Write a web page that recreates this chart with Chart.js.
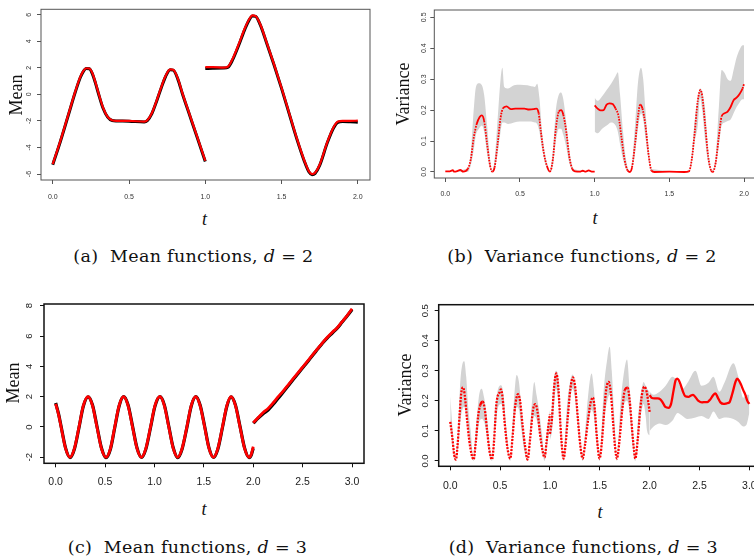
<!DOCTYPE html>
<html><head><meta charset="utf-8">
<script src="https://cdn.jsdelivr.net/npm/chart.js@4"></script>
<style>
html,body{margin:0;padding:0;background:#fff;}
body{width:754px;height:559px;overflow:hidden;position:relative;}
.pn{position:absolute;}
.lab{position:absolute;white-space:nowrap;font-family:'Liberation Serif',serif;font-size:18px;color:#111;line-height:1;}
.rot{transform:translate(-50%,-50%) rotate(-90deg);}
.ctr{transform:translate(-50%,-50%);}
.it{font-style:italic;font-size:18px;}
.cap{position:absolute;white-space:nowrap;font-family:'DejaVu Serif',serif;font-size:17.5px;letter-spacing:0.3px;transform:translate(-50%,-50%);color:#111;line-height:1;}
</style></head><body>
<div class="pn" style="left:0;top:0"><canvas id="ca" width="377" height="200"></canvas></div>
<div class="pn" style="left:377px;top:0"><canvas id="cb" width="390" height="200"></canvas></div>
<div class="pn" style="left:0;top:290px"><canvas id="cc" width="377" height="200"></canvas></div>
<div class="pn" style="left:377px;top:290px"><canvas id="cd" width="400" height="200"></canvas></div>

<div class="lab rot" style="left:16.3px;top:94.5px">Mean</div>
<div class="lab ctr it" style="left:204.5px;top:219px">t</div>
<div class="lab rot" style="left:403px;top:94px">Variance</div>
<div class="lab ctr it" style="left:595px;top:217.5px">t</div>
<div class="lab rot" style="left:12.5px;top:382.5px">Mean</div>
<div class="lab ctr it" style="left:204px;top:509px">t</div>
<div class="lab rot" style="left:404.5px;top:385px">Variance</div>
<div class="lab ctr it" style="left:600px;top:512px">t</div>

<div class="cap" style="left:193.4px;top:257px">(a)&nbsp; Mean functions, <i>d</i> = 2</div>
<div class="cap" style="left:582px;top:257px">(b)&nbsp; Variance functions, <i>d</i> = 2</div>
<div class="cap" style="left:187.5px;top:548px">(c)&nbsp; Mean functions, <i>d</i> = 3</div>
<div class="cap" style="left:583.3px;top:548px">(d)&nbsp; Variance functions, <i>d</i> = 3</div>

<script>
// ---------- tick values / labels ----------
const xTicks2 = [0, 0.5, 1, 1.5, 2];
const xLabels2 = ["0.0", "0.5", "1.0", "1.5", "2.0"];
const xTicks3 = [0, 0.5, 1, 1.5, 2, 2.5, 3];
const xLabels3 = ["0.0", "0.5", "1.0", "1.5", "2.0", "2.5", "3.0"];
const yTicksA = [-6, -4, -2, 0, 2, 4, 6];
const yLabelsA = ["-6", "-4", "-2", "0", "2", "4", "6"];
const yTicksC = [-2, 0, 2, 4, 6, 8];
const yLabelsC = ["-2", "0", "2", "4", "6", "8"];
const yTicksV = [0, 0.1, 0.2, 0.3, 0.4, 0.5];
const yLabelsV = ["0.0", "0.1", "0.2", "0.3", "0.4", "0.5"];

// ---------- (a) mean functions, d = 2 ----------
const aT1 = [0,0.05,0.10,0.15,0.18,0.20,0.22,0.24,0.26,0.28,0.30,0.33,0.36,0.39,0.42,0.50,0.60,0.62,0.65,0.68,0.71,0.74,0.77,0.79,0.82,0.85,0.90,0.95,1.0];
const aRed1 = [-5.25,-3.5,-1.6,0.3,1.3,1.75,1.97,1.95,1.6,0.9,0.1,-1.0,-1.7,-1.95,-2.0,-2.0,-2.05,-1.95,-1.4,-0.5,0.5,1.4,1.88,1.85,1.2,0.1,-1.6,-3.3,-5.0];
const aBlack1 = [-5.3,-3.55,-1.65,0.25,1.25,1.72,1.95,1.93,1.55,0.85,0.05,-1.05,-1.72,-1.97,-2.0,-2.02,-2.08,-1.98,-1.45,-0.55,0.45,1.35,1.85,1.83,1.15,0.05,-1.65,-3.35,-5.05];
const aT2 = [1.0,1.05,1.12,1.15,1.18,1.22,1.26,1.29,1.31,1.33,1.36,1.40,1.45,1.50,1.55,1.60,1.65,1.68,1.70,1.72,1.75,1.80,1.84,1.87,1.90,1.95,2.0];
const aRed2 = [2.05,2.05,2.02,2.1,2.7,3.8,5.0,5.7,5.95,5.9,5.3,4.0,2.3,0.5,-1.4,-3.3,-5.0,-5.8,-6.0,-5.9,-5.3,-3.6,-2.5,-2.05,-2.0,-2.0,-1.98];
const aBlack2 = [1.95,1.97,1.98,2.05,2.62,3.72,4.92,5.65,5.9,5.87,5.25,3.95,2.25,0.45,-1.45,-3.35,-5.05,-5.85,-6.05,-5.95,-5.35,-3.65,-2.55,-2.1,-2.05,-2.07,-2.1];

// ---------- (b) variance functions, d = 2 ----------
const bT1 = [0,0.03,0.05,0.06,0.08,0.10,0.12,0.15,0.17,0.19,0.21,0.23,0.245,0.26,0.28,0.30,0.315,0.33,0.35,0.37,0.385,0.41,0.44,0.47,0.50,0.53,0.56,0.59,0.61,0.625,0.64,0.66,0.68,0.70,0.72,0.74,0.76,0.775,0.79,0.81,0.83,0.85,0.87,0.90,0.92,0.94,0.96,0.98,1.0];
const bRed1 = [0.002,0.002,0.006,0.001,0.003,0.007,0.001,0.01,0.04,0.11,0.155,0.178,0.183,0.165,0.09,0.02,0.001,0.015,0.09,0.175,0.205,0.212,0.203,0.205,0.205,0.205,0.202,0.203,0.205,0.19,0.13,0.06,0.02,0.001,0.04,0.14,0.195,0.2,0.185,0.13,0.05,0.01,0.002,0.001,0.004,0.001,0.005,0.001,0.001];
const bBandT1 = [0,0.15,0.17,0.19,0.205,0.225,0.245,0.26,0.28,0.30,0.315,0.33,0.35,0.37,0.382,0.395,0.42,0.46,0.50,0.55,0.60,0.615,0.63,0.65,0.68,0.70,0.72,0.74,0.76,0.775,0.79,0.81,0.83,0.86,1.0];
const bLo1 = [0,0,0.02,0.07,0.12,0.14,0.15,0.13,0.06,0.01,0,0.01,0.06,0.13,0.16,0.16,0.155,0.16,0.163,0.163,0.16,0.155,0.13,0.07,0.01,0,0.02,0.1,0.14,0.14,0.12,0.08,0.03,0,0];
const bHi1 = [0.002,0.012,0.06,0.2,0.275,0.287,0.28,0.25,0.15,0.04,0.005,0.04,0.17,0.3,0.337,0.275,0.27,0.28,0.282,0.28,0.275,0.285,0.24,0.12,0.03,0.004,0.07,0.2,0.25,0.257,0.235,0.16,0.07,0.01,0.002];
const bT2 = [1.00,1.02,1.04,1.06,1.08,1.10,1.12,1.14,1.16,1.18,1.20,1.22,1.235,1.25,1.27,1.29,1.305,1.32,1.34,1.36,1.38,1.40,1.50,1.60,1.63,1.65,1.67,1.69,1.708,1.72,1.74,1.76,1.78,1.79,1.81,1.83,1.85,1.87,1.89,1.91,1.93,1.95,1.97,1.99,2.00];
const bRed2 = [0.215,0.205,0.199,0.2,0.218,0.222,0.22,0.205,0.18,0.11,0.04,0.005,0.0,0.015,0.09,0.18,0.218,0.205,0.15,0.06,0.005,0.0,0.001,0.0,0.002,0.04,0.13,0.23,0.265,0.245,0.15,0.05,0.004,0.0,0.03,0.11,0.18,0.19,0.195,0.21,0.232,0.24,0.252,0.27,0.285];
const bBandT2 = [1.00,1.02,1.05,1.08,1.11,1.14,1.155,1.17,1.19,1.21,1.235,1.25,1.27,1.29,1.31,1.325,1.34,1.36,1.38,1.63,1.65,1.67,1.69,1.705,1.72,1.74,1.76,1.785,1.81,1.83,1.85,1.87,1.89,1.91,1.93,1.95,1.97,1.99,2.00];
const bLo2 = [0.13,0.125,0.14,0.15,0.16,0.15,0.13,0.09,0.04,0.01,0,0.01,0.06,0.14,0.19,0.17,0.11,0.04,0,0,0.03,0.1,0.15,0.24,0.2,0.1,0.03,0,0.02,0.08,0.15,0.16,0.165,0.17,0.19,0.21,0.225,0.235,0.235];
const bHi2 = [0.24,0.23,0.245,0.265,0.285,0.31,0.322,0.25,0.13,0.04,0.003,0.03,0.15,0.29,0.337,0.3,0.2,0.08,0.01,0.003,0.06,0.17,0.24,0.27,0.26,0.2,0.07,0.004,0.05,0.2,0.33,0.32,0.3,0.295,0.33,0.37,0.395,0.41,0.41];

// ---------- (c) mean functions, d = 3 ----------
const cT1 = [0,0.03,0.055,0.1,0.145,0.19,0.236,0.28,0.328,0.373,0.418,0.463,0.51,0.555,0.598,0.642,0.687,0.733,0.778,0.823,0.868,0.913,0.96,1.005,1.055,1.1,1.145,1.19,1.236,1.28,1.328,1.372,1.418,1.462,1.508,1.552,1.597,1.642,1.688,1.733,1.775,1.82,1.866,1.912,1.957,1.98,2.0];
const cRed1 = [1.52,0.8,0.0,-1.41,-2.0,-1.41,0,1.41,2.0,1.41,0,-1.41,-2.0,-1.41,0,1.41,2.0,1.41,0,-1.41,-2.0,-1.41,0,1.41,2.02,1.41,0,-1.41,-2.0,-1.41,0,1.41,2.0,1.41,0,-1.41,-2.0,-1.41,0,1.41,2.0,1.41,0,-1.41,-2.0,-1.8,-1.3];
const cBlack1 = [1.58,0.85,0.05,-1.38,-2.02,-1.45,-0.05,1.37,1.99,1.45,0.05,-1.37,-2.02,-1.45,-0.05,1.37,2.0,1.45,0.06,-1.37,-2.01,-1.46,-0.05,1.36,2.0,1.46,0.05,-1.37,-2.02,-1.45,-0.04,1.37,2.0,1.45,0.05,-1.38,-2.01,-1.45,-0.05,1.37,1.99,1.44,0.04,-1.38,-2.02,-1.85,-1.4];
const cT2 = [2.0,2.05,2.1,2.15,2.2,2.25,2.3,2.35,2.4,2.45,2.5,2.55,2.6,2.65,2.7,2.75,2.8,2.85,2.9,2.95,3.0];
const cRed2 = [0.28,0.62,0.95,1.22,1.58,1.98,2.35,2.75,3.15,3.55,3.95,4.35,4.75,5.15,5.55,5.92,6.25,6.55,6.95,7.35,7.8];
const cBlack2 = [0.25,0.58,0.88,1.12,1.48,1.88,2.27,2.68,3.1,3.5,3.9,4.3,4.72,5.12,5.52,5.88,6.2,6.52,6.92,7.32,7.75];

// ---------- (d) variance functions, d = 3 ----------
const dT1 = [0,0.02,0.04,0.057,0.075,0.095,0.11,0.127,0.145,0.165,0.19,0.215,0.234,0.255,0.28,0.30,0.325,0.345,0.37,0.395,0.418,0.44,0.46,0.475,0.49,0.508,0.525,0.545,0.575,0.602,0.625,0.65,0.679,0.70,0.725,0.75,0.776,0.80,0.83,0.853,0.875,0.90,0.925,0.946,0.965,0.985,1.0];
const dRed1 = [0.13,0.08,0.02,0.005,0.06,0.16,0.225,0.245,0.22,0.15,0.07,0.02,0.005,0.06,0.15,0.185,0.197,0.175,0.1,0.03,0.005,0.07,0.18,0.215,0.225,0.238,0.21,0.13,0.04,0.008,0.08,0.18,0.222,0.2,0.12,0.05,0.005,0.07,0.17,0.189,0.165,0.09,0.035,0.012,0.06,0.12,0.155];
const dT2 = [1.0,1.02,1.04,1.064,1.085,1.105,1.122,1.137,1.155,1.18,1.205,1.231,1.255,1.28,1.305,1.328,1.35,1.38,1.405,1.431,1.45,1.47,1.498,1.52,1.545,1.565,1.589,1.61,1.635,1.655,1.672,1.695,1.725,1.75,1.779,1.80,1.825,1.845,1.856,1.88,1.905,1.93,1.95,1.97,1.985,2.0];
const dRed2 = [0.09,0.14,0.24,0.291,0.24,0.12,0.04,0.008,0.05,0.15,0.24,0.278,0.24,0.14,0.05,0.008,0.05,0.13,0.19,0.211,0.17,0.08,0.008,0.06,0.17,0.24,0.263,0.23,0.12,0.04,0.008,0.06,0.17,0.235,0.244,0.2,0.1,0.03,0.008,0.07,0.17,0.235,0.247,0.23,0.2,0.163];
const dT3 = [2.0,2.02,2.05,2.08,2.107,2.13,2.157,2.19,2.215,2.24,2.26,2.275,2.29,2.31,2.335,2.358,2.39,2.415,2.435,2.46,2.49,2.525,2.555,2.585,2.609,2.635,2.659,2.685,2.71,2.742,2.775,2.80,2.83,2.86,2.876,2.895,2.915,2.94,2.96,2.98,3.0];
const dRed3 = [0.219,0.21,0.208,0.208,0.205,0.195,0.18,0.177,0.19,0.235,0.268,0.274,0.27,0.255,0.23,0.215,0.213,0.218,0.22,0.212,0.2,0.195,0.196,0.197,0.205,0.218,0.225,0.21,0.195,0.19,0.192,0.195,0.225,0.262,0.274,0.268,0.255,0.235,0.22,0.2,0.19];
const dBandT1 = [0,0.02,0.04,0.057,0.08,0.10,0.12,0.14,0.16,0.18,0.205,0.234,0.26,0.29,0.315,0.34,0.37,0.395,0.418,0.45,0.48,0.51,0.535,0.56,0.602,0.635,0.666,0.69,0.715,0.745,0.776,0.81,0.843,0.865,0.89,0.92,0.946,0.97,1.0];
const dLo1 = [0.12,0.06,0.01,0,0.05,0.13,0.17,0.18,0.16,0.1,0.04,0,0.06,0.13,0.14,0.13,0.08,0.02,0,0.1,0.18,0.19,0.16,0.07,0,0.11,0.18,0.17,0.1,0.03,0,0.1,0.15,0.14,0.1,0.04,0,0.05,0.11];
const dHi1 = [0.215,0.12,0.03,0.008,0.12,0.26,0.32,0.332,0.28,0.18,0.1,0.008,0.12,0.22,0.24,0.21,0.14,0.05,0.008,0.17,0.24,0.252,0.22,0.12,0.01,0.18,0.286,0.26,0.17,0.07,0.008,0.15,0.263,0.22,0.17,0.09,0.02,0.1,0.17];
const dBandT2 = [1.0,1.02,1.04,1.06,1.085,1.105,1.137,1.17,1.2,1.228,1.25,1.28,1.328,1.37,1.418,1.44,1.47,1.498,1.54,1.575,1.599,1.62,1.645,1.672,1.71,1.745,1.773,1.8,1.83,1.856,1.89,1.92,1.94,1.96,1.975,2.0];
const dLo2 = [0.07,0.1,0.18,0.24,0.2,0.1,0,0.1,0.2,0.24,0.21,0.12,0,0.1,0.17,0.15,0.06,0,0.13,0.2,0.22,0.2,0.08,0,0.12,0.19,0.2,0.16,0.05,0,0.1,0.17,0.19,0.15,0.1,0.085];
const dHi2 = [0.12,0.18,0.27,0.3,0.27,0.15,0.015,0.18,0.26,0.288,0.26,0.16,0.015,0.17,0.291,0.24,0.11,0.015,0.24,0.34,0.38,0.3,0.15,0.015,0.2,0.3,0.338,0.24,0.1,0.015,0.17,0.24,0.263,0.25,0.24,0.23];
const dBandT3 = [2.0,2.04,2.1,2.16,2.23,2.28,2.33,2.38,2.46,2.52,2.59,2.64,2.70,2.75,2.84,2.89,2.94,2.97,3.0];
const dLo3 = [0.1,0.115,0.125,0.12,0.135,0.16,0.15,0.14,0.145,0.15,0.14,0.165,0.14,0.145,0.14,0.13,0.115,0.12,0.16];
const dHi3 = [0.23,0.22,0.23,0.25,0.28,0.265,0.24,0.26,0.3,0.25,0.26,0.28,0.23,0.26,0.325,0.28,0.21,0.22,0.22];

// ---------- helpers ----------
const RED = '#ff0000', BLACK = '#000000', BAND = '#d3d3d3';
function pts(t, v) { return t.map((x, i) => ({ x: x, y: v[i] })); }
// steep parts drawn as dotted (mimics densely plotted points)
function steepDash(limit, dash) {
  return ctx => {
    const dx = Math.abs(ctx.p1.x - ctx.p0.x), dy = Math.abs(ctx.p1.y - ctx.p0.y);
    return dy > limit * dx ? dash : undefined;
  };
}
function lineDS(t, v, color, w, order, dotted) {
  const ds = { data: pts(t, v), borderColor: color, borderWidth: w, pointRadius: 0, fill: false,
           cubicInterpolationMode: 'monotone', order: order, borderCapStyle: 'butt', borderJoinStyle: 'round' };
  if (dotted) ds.segment = { borderDash: steepDash(dotted.limit, dotted.dash) };
  return ds;
}
function bandDS(t, lo, hi) {
  return [
    { data: pts(t, hi), borderWidth: 0, borderColor: 'rgba(0,0,0,0)', backgroundColor: BAND, fill: '+1',
      pointRadius: 0, order: 5, cubicInterpolationMode: 'monotone' },
    { data: pts(t, lo), borderWidth: 0, borderColor: 'rgba(0,0,0,0)', backgroundColor: BAND, fill: false,
      pointRadius: 0, order: 5, cubicInterpolationMode: 'monotone' }
  ];
}
const boxPlugin = {
  id: 'box',
  afterDatasetsDraw(chart, args, opts) {
    const a = chart.chartArea, c = chart.ctx;
    c.save(); c.strokeStyle = opts.color; c.lineWidth = opts.width;
    c.strokeRect(a.left, a.top, a.right - a.left, a.bottom - a.top);
    c.restore();
  }
};
function xAxis(p) {
  return {
    type: 'linear', min: p.xmin, max: p.xmax,
    afterBuildTicks: s => { s.ticks = p.xv.map(v => ({ value: v })); },
    afterFit: s => { s.height = p.xh; },
    ticks: { callback: v => p.xl[p.xv.indexOf(v)], font: p.xfont, color: p.tc, padding: p.xpad,
             maxRotation: 0, minRotation: 0, autoSkip: false },
    grid: { drawOnChartArea: false, drawTicks: true, tickLength: 4, tickColor: p.bc, color: p.bc, tickWidth: 1 },
    border: { display: false }
  };
}
function yAxis(p) {
  return {
    type: 'linear', min: p.ymin, max: p.ymax,
    afterBuildTicks: s => { s.ticks = p.yv.map(v => ({ value: v })); },
    afterFit: s => { s.width = p.yw; },
    ticks: { callback: v => p.yl[p.yv.indexOf(v)], font: p.yfont, color: p.tc, padding: p.ypad,
             minRotation: 90, maxRotation: 90, crossAlign: 'center', autoSkip: false },
    grid: { drawOnChartArea: false, drawTicks: true, tickLength: 4, tickColor: p.bc, color: p.bc, tickWidth: 1 },
    border: { display: false }
  };
}
function make(id, p, datasets) {
  new Chart(document.getElementById(id), {
    type: 'line',
    data: { datasets: datasets },
    options: {
      responsive: false, animation: false, events: [],
      layout: { padding: { left: 0, top: p.top, right: p.right, bottom: 0 } },
      scales: { x: xAxis(p), y: yAxis(p) },
      plugins: { legend: { display: false }, tooltip: { enabled: false }, box: { color: p.bc, width: p.bw } }
    },
    plugins: [boxPlugin]
  });
}

const smallFont = { family: "'Liberation Sans', Arial, sans-serif", size: 7 };
const narrowFont = { family: "'Liberation Sans Narrow', 'Liberation Sans', sans-serif", size: 10.5 };
const yFontCD = { family: "'Liberation Sans', Arial, sans-serif", size: 9.5 };
const dotB = { limit: 2.5, dash: [1.6, 1.2] };
const dotD = { limit: 1.6, dash: [2, 1.3] };

// (a)
make('ca', { top: 9.3, right: 7, yw: 41, xh: 20, xmin: -0.077, xmax: 2.08, ymin: -6.45, ymax: 6.41,
  xv: xTicks2, xl: xLabels2, yv: yTicksA, yl: yLabelsA, xfont: smallFont, yfont: smallFont,
  tc: '#333', bc: '#555', bw: 1, xpad: 9, ypad: 4.6 },
  [ lineDS(aT1, aRed1, RED, 2.2, 0), lineDS(aT2, aRed2, RED, 2.2, 0),
    lineDS(aT1, aBlack1, BLACK, 3, 1), lineDS(aT2, aBlack2, BLACK, 3, 1) ]);

// (b)
make('cb', { top: 10, right: 11, yw: 57.3, xh: 22, xmin: -0.0737, xmax: 2.08, ymin: -0.0194, ymax: 0.5236,
  xv: xTicks2, xl: xLabels2, yv: yTicksV, yl: yLabelsV, xfont: smallFont, yfont: smallFont,
  tc: '#333', bc: '#555', bw: 1, xpad: 8, ypad: 1.7 },
  [ lineDS(bT1, bRed1, RED, 1.8, 0, dotB), lineDS(bT2, bRed2, RED, 1.8, 0, dotB),
    ...bandDS(bBandT1, bLo1, bHi1), ...bandDS(bBandT2, bLo2, bHi2) ]);

// (c)
make('cc', { top: 14, right: 13, yw: 44, xh: 26.7, xmin: -0.118, xmax: 3.121, ymin: -2.395, ymax: 8.112,
  xv: xTicks3, xl: xLabels3, yv: yTicksC, yl: yLabelsC, xfont: narrowFont, yfont: yFontCD,
  tc: '#222', bc: '#111', bw: 1.5, xpad: 9, ypad: 6.3 },
  [ lineDS(cT1, cRed1, RED, 2.8, 0), lineDS(cT2, cRed2, RED, 2.8, 0),
    lineDS(cT1, cBlack1, BLACK, 3.2, 1), lineDS(cT2, cBlack2, BLACK, 3.2, 1) ]);

// (d)
make('cd', { top: 14.7, right: 15.7, yw: 61.7, xh: 23.7, xmin: -0.116, xmax: 3.12, ymin: -0.0177, ymax: 0.52,
  xv: xTicks3, xl: xLabels3, yv: yTicksV, yl: yLabelsV, xfont: narrowFont, yfont: yFontCD,
  tc: '#222', bc: '#111', bw: 1.5, xpad: 9.5, ypad: 2.8 },
  [ lineDS(dT1, dRed1, RED, 2.3, 0, dotD), lineDS(dT2, dRed2, RED, 2.3, 0, dotD), lineDS(dT3, dRed3, RED, 2.3, 0),
    ...bandDS(dBandT1, dLo1, dHi1), ...bandDS(dBandT2, dLo2, dHi2), ...bandDS(dBandT3, dLo3, dHi3) ]);
</script>
</body></html>
